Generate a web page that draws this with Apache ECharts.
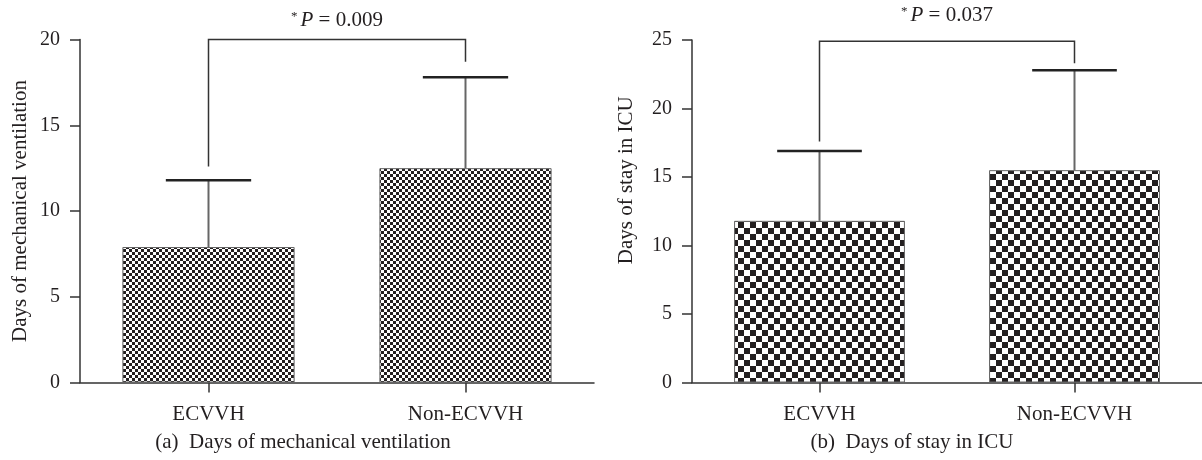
<!DOCTYPE html>
<html><head><meta charset="utf-8">
<script src="https://cdn.jsdelivr.net/npm/echarts@6/dist/echarts.min.js"></script>
<style>html,body{margin:0;padding:0;background:#fff}#c{width:1202px;height:460px}</style>
</head><body><div id="c"></div>
<script>
// ---- data ----
const categories = ['ECVVH', 'Non-ECVVH'];
const ventMean = [7.9, 12.5];
const ventSD = [3.9, 5.3];
const icuMean = [11.8, 15.5];
const icuSD = [5.1, 7.3];
// bracket: [left leg end, right leg end, top]
const ventBracket = [12.6, 18.7, 20];
const icuBracket = [17.6, 23.3, 24.9];
const ventP = '0.009';
const icuP = '0.037';
const ventAxis = [0, 20, 5];
const icuAxis = [0, 25, 5];
const yNames = ['Days of mechanical ventilation', 'Days of stay in ICU'];
const captions = ['(a)  Days of mechanical ventilation', '(b)  Days of stay in ICU'];

// ---- styling ----
const FONT = '"Liberation Serif", "DejaVu Serif", serif';
const INK = '#231f20';
function checker(cell) {
  const c = document.createElement('canvas');
  c.width = c.height = cell * 2;
  const g = c.getContext('2d');
  g.fillStyle = '#ffffff'; g.fillRect(0, 0, cell * 2, cell * 2);
  g.fillStyle = INK;
  g.fillRect(0, 0, cell, cell); g.fillRect(cell, cell, cell, cell);
  return c;
}
const panels = [
  { mean: ventMean, sd: ventSD, bracket: ventBracket, p: ventP, axis: ventAxis, name: yNames[0],
    grid: { left: 80, top: 39.5, width: 514, height: 343 }, pattern: checker(3), nameGap: 49, namePad: [0, 0, 0, 0], pY: 20.5, cap: captions[0], capX: 303 },
  { mean: icuMean, sd: icuSD, bracket: icuBracket, p: icuP, axis: icuAxis, name: yNames[1],
    grid: { left: 692, top: 40, width: 515, height: 342.5 }, pattern: checker(6), nameGap: 55, namePad: [0, 0, 0, 62], pY: 15.5, cap: captions[1], capX: 912 }
];

const grids = [], xAxes = [], yAxes = [], series = [], graphics = [];
panels.forEach((pn, i) => {
  grids.push(pn.grid);
  xAxes.push({
    type: 'category', gridIndex: i, data: categories,
    axisLine: { show: true, lineStyle: { color: '#333', width: 1.5 } },
    axisTick: { show: true, alignWithLabel: true, length: 10, lineStyle: { color: '#333', width: 1.5 } },
    axisLabel: { margin: 21, fontSize: 21, fontFamily: FONT, color: INK },
    splitLine: { show: false }
  });
  yAxes.push({
    type: 'value', gridIndex: i, min: pn.axis[0], max: pn.axis[1], interval: pn.axis[2],
    axisLine: { show: true, lineStyle: { color: '#333', width: 1.5 } },
    axisTick: { show: true, length: 10, lineStyle: { color: '#333', width: 1.5 } },
    axisLabel: { margin: 20, fontSize: 20, fontFamily: FONT, color: INK },
    splitLine: { show: false },
    name: pn.name, nameLocation: 'middle', nameGap: pn.nameGap,
    nameTextStyle: { fontSize: 21, fontFamily: FONT, color: INK, padding: pn.namePad }
  });
  series.push({
    type: 'bar', xAxisIndex: i, yAxisIndex: i, data: pn.mean, barCategoryGap: '33%',
    itemStyle: { color: { image: pn.pattern, repeat: 'repeat' }, borderColor: '#666', borderWidth: 1 },
    silent: true, animation: false
  });
  series.push({
    type: 'custom', xAxisIndex: i, yAxisIndex: i,
    data: pn.mean.map((m, k) => [k, m, pn.sd[k]]),
    encode: { x: 0, y: 1 }, animation: false, silent: true, z: 5,
    renderItem: function (params, api) {
      const x = api.value(0), m = api.value(1), s = api.value(2);
      const p0 = api.coord([x, m]);
      const p1 = api.coord([x, m + s]);
      const half = api.size([1, 0])[0] * 0.166;
      return { type: 'group', children: [
        { type: 'line', shape: { x1: p0[0], y1: p0[1], x2: p1[0], y2: p1[1] }, style: { stroke: '#666', lineWidth: 2 } },
        { type: 'line', shape: { x1: p1[0] - half, y1: p1[1], x2: p1[0] + half, y2: p1[1] }, style: { stroke: '#222', lineWidth: 2.5 } }
      ] };
    }
  });
  series.push({
    type: 'custom', xAxisIndex: i, yAxisIndex: i,
    data: [[0, pn.bracket[0], 1, pn.bracket[1], pn.bracket[2], pn.p]],
    encode: { x: 0, y: 4 }, animation: false, silent: true, z: 6,
    renderItem: function (params, api) {
      const b = pn.bracket;
      const a0 = api.coord([0, b[0]]), a1 = api.coord([0, b[2]]);
      const c1 = api.coord([1, b[2]]), c0 = api.coord([1, b[1]]);
      return { type: 'group', children: [
        { type: 'polyline', shape: { points: [a0, a1, c1, c0] }, style: { stroke: '#333', lineWidth: 1.5, fill: null } },
        { type: 'text', x: (a1[0] + c1[0]) / 2, y: pn.pY,
          style: { text: '{s|*}{p|P} = ' + pn.p, align: 'center', verticalAlign: 'middle',
            fontSize: 21, fontFamily: FONT, fill: INK,
            rich: { s: { fontSize: 13, fontFamily: FONT, fill: INK, verticalAlign: 'top', padding: [0, 3, 0, 0] },
                    p: { fontSize: 21, fontFamily: FONT, fontStyle: 'italic', fill: INK } } } }
      ] };
    }
  });
  graphics.push({ type: 'text', x: pn.capX, y: 442,
    style: { text: pn.cap, align: 'center', verticalAlign: 'middle', fontSize: 21, fontFamily: FONT, fill: INK } });
});

const chart = echarts.init(document.getElementById('c'), null, { renderer: 'canvas' });
chart.setOption({
  animation: false, backgroundColor: '#fff',
  grid: grids, xAxis: xAxes, yAxis: yAxes, series: series, graphic: graphics
});
</script>
</body></html>
